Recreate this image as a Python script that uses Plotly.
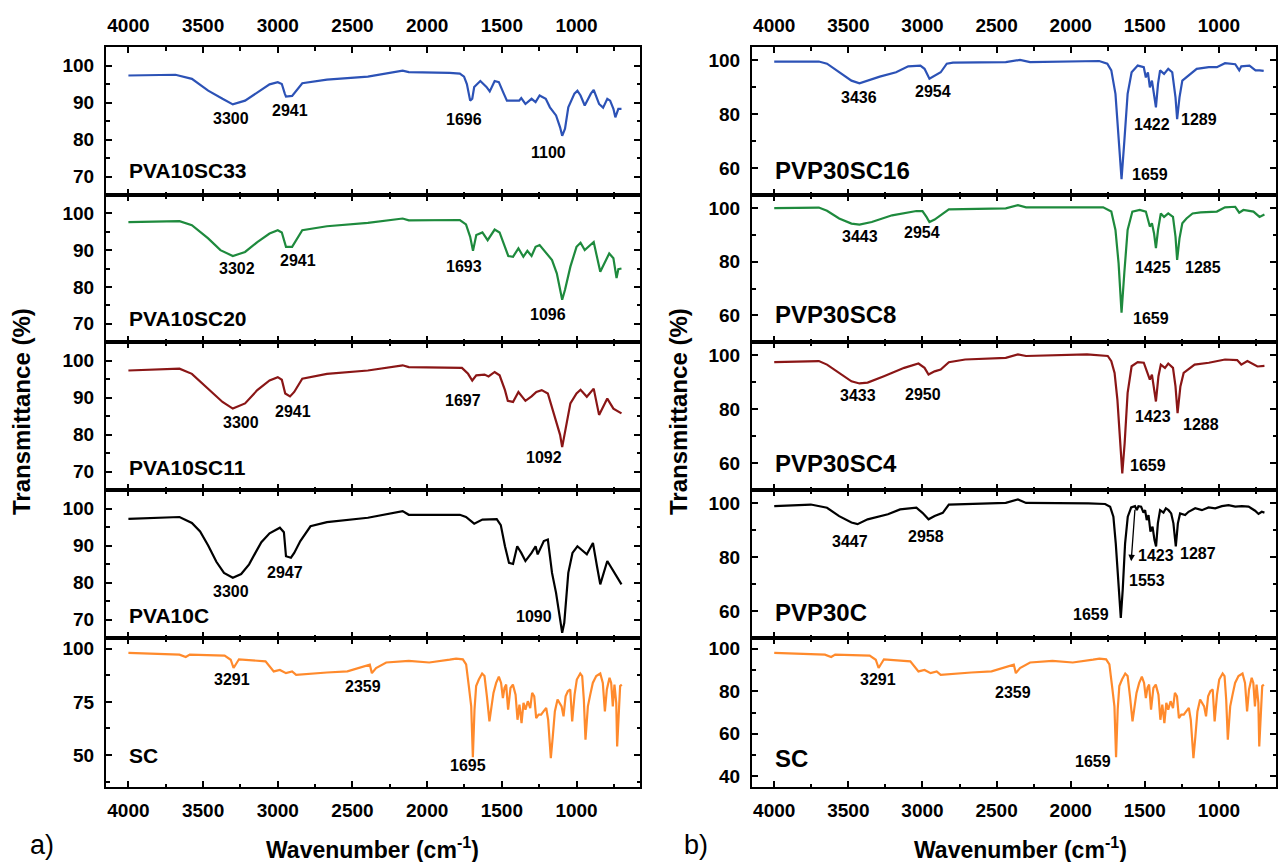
import plotly.graph_objects as go

# ---------------- data (wavenumber cm-1, transmittance %) ----------------
wn_pva10sc33 = [4000, 3685, 3575, 3466, 3370, 3301, 3219, 3137, 3055, 3000, 2973, 2953, 2945, 2904, 2877, 2836,
                2671, 2397, 2164, 2123, 1849, 1781, 1753, 1734, 1712, 1698, 1685, 1644, 1603, 1581, 1548, 1520,
                1487, 1466, 1384, 1370, 1342, 1301, 1274, 1247, 1206, 1178, 1137, 1110, 1096, 1077, 1055, 1014,
                994, 973, 945, 904, 885, 849, 822, 794, 775, 753, 740, 720, 699]
t_pva10sc33 = [97.3, 97.5, 96.4, 93.2, 91.0, 89.5, 90.5, 92.8, 94.9, 95.5, 95.0, 92.4, 91.6, 91.8, 93.2, 95.2,
               96.2, 97.0, 98.6, 98.2, 98.0, 97.8, 97.0, 95.0, 90.5, 91.0, 94.2, 95.8, 94.2, 93.0, 95.8, 95.5,
               92.4, 90.5, 90.5, 91.2, 89.6, 91.0, 90.1, 91.9, 91.0, 88.7, 86.5, 83.3, 81.0, 82.9, 88.7, 92.4,
               93.2, 91.9, 89.2, 92.4, 93.4, 89.6, 88.6, 91.0, 90.5, 88.3, 86.0, 88.3, 88.3]

wn_pva10sc20 = [4000, 3658, 3575, 3466, 3384, 3301, 3219, 3137, 3055, 3000, 2973, 2945, 2904, 2877, 2836, 2671,
                2397, 2164, 2123, 1781, 1740, 1712, 1693, 1671, 1630, 1595, 1548, 1515, 1479, 1457, 1425, 1389,
                1356, 1329, 1301, 1274, 1247, 1206, 1164, 1132, 1110, 1096, 1077, 1041, 1000, 973, 945, 904,
                885, 841, 781, 753, 732, 720, 699]
t_pva10sc20 = [97.6, 97.9, 96.8, 93.2, 90.0, 88.4, 89.5, 92.2, 94.5, 95.4, 94.8, 90.9, 90.9, 92.7, 95.4, 96.5,
               97.4, 98.6, 98.1, 98.2, 97.0, 93.6, 89.8, 94.1, 94.8, 92.7, 95.6, 94.8, 90.5, 88.4, 88.2, 90.5,
               88.2, 89.8, 88.4, 90.9, 91.4, 89.5, 87.3, 83.7, 79.2, 76.5, 79.2, 85.5, 90.9, 92.0, 90.0, 91.7,
               92.2, 84.1, 89.1, 87.8, 82.4, 84.8, 85.0]

wn_pva10sc11 = [4000, 3658, 3575, 3466, 3370, 3301, 3219, 3137, 3055, 3000, 2973, 2950, 2918, 2890, 2836, 2671,
                2397, 2164, 2123, 1767, 1726, 1698, 1671, 1616, 1589, 1548, 1515, 1479, 1460, 1425, 1389, 1342,
                1301, 1269, 1233, 1192, 1159, 1132, 1110, 1096, 1077, 1041, 1000, 973, 931, 885, 849, 794,
                753, 699]
t_pva10sc11 = [97.3, 97.8, 96.4, 92.4, 88.8, 87.0, 88.4, 92.0, 94.6, 95.5, 94.8, 91.1, 90.3, 91.5, 95.1, 96.4,
               97.3, 98.7, 98.2, 98.0, 96.4, 94.6, 96.0, 96.2, 95.7, 96.9, 96.0, 92.0, 89.1, 88.8, 91.5, 89.1,
               90.3, 91.5, 92.0, 91.1, 86.6, 83.5, 79.9, 76.6, 80.8, 88.4, 91.1, 92.1, 90.2, 92.4, 85.3, 89.7,
               87.0, 85.7]

wn_pva10c = [4000, 3658, 3575, 3520, 3466, 3411, 3360, 3301, 3245, 3192, 3150, 3110, 3055, 2986, 2959, 2945,
             2912, 2890, 2849, 2781, 2671, 2397, 2164, 2123, 1781, 1740, 1685, 1630, 1534, 1507, 1479, 1452,
             1425, 1397, 1370, 1342, 1301, 1274, 1260, 1219, 1192, 1164, 1137, 1110, 1096, 1082, 1055, 1027,
             994, 931, 890, 863, 841, 794, 699]
t_pva10c = [97.2, 97.7, 96.1, 93.8, 90.0, 85.6, 82.6, 81.3, 82.3, 84.9, 88.0, 90.9, 93.3, 94.8, 93.6, 87.1,
            86.7, 88.0, 91.2, 95.2, 96.3, 97.5, 99.3, 98.3, 98.3, 97.7, 95.9, 97.0, 97.1, 95.5, 89.8, 85.3,
            85.0, 89.8, 88.0, 85.8, 88.0, 89.8, 87.6, 91.2, 91.6, 82.6, 77.2, 70.0, 66.4, 69.1, 82.6, 88.0,
            89.8, 87.6, 90.7, 84.4, 79.5, 85.8, 79.5]

wn_sc = [4000, 3658, 3616, 3589, 3356, 3315, 3296, 3260, 3082, 3027, 2986, 2945, 2904, 2877, 2671, 2534,
         2384, 2370, 2342, 2274, 2123, 1986, 1849, 1806, 1761, 1739, 1721, 1705, 1694, 1683, 1672, 1654,
         1632, 1616, 1600, 1583, 1569, 1556, 1538, 1520, 1505, 1493, 1482, 1471, 1458, 1442, 1426, 1408,
         1395, 1382, 1368, 1355, 1342, 1326, 1310, 1297, 1283, 1270, 1254, 1237, 1221, 1203, 1190, 1181,
         1172, 1159, 1145, 1127, 1114, 1100, 1087, 1073, 1058, 1042, 1029, 1013, 998, 975, 962, 951,
         940, 924, 908, 891, 868, 841, 824, 810, 797, 779, 768, 757, 746, 734, 728, 717, 708, 697]
t_sc = [98.0, 97.2, 96.1, 97.2, 96.7, 94.8, 90.9, 95.0, 94.0, 89.3, 90.0, 88.5, 89.3, 87.7, 88.8, 89.3,
        92.5, 88.5, 90.9, 93.5, 94.3, 93.5, 94.8, 95.3, 95.0, 92.6, 82.4, 72.9, 49.0, 71.3, 82.4, 85.5,
        88.3, 87.1, 77.6, 65.8, 72.9, 79.2, 83.9, 86.8, 83.9, 76.8, 81.6, 83.1, 71.3, 81.6, 83.1, 78.4,
        66.6, 73.7, 65.0, 74.5, 71.3, 75.3, 72.1, 79.2, 77.6, 67.4, 69.0, 69.0, 70.5, 72.1, 66.6, 57.2,
        48.5, 58.7, 70.5, 76.1, 74.5, 72.9, 68.2, 77.6, 80.0, 80.8, 65.8, 78.4, 85.5, 88.3, 87.1, 76.1,
        57.2, 72.9, 78.4, 83.9, 87.1, 88.3, 83.9, 70.5, 80.8, 86.3, 83.9, 72.9, 83.1, 74.5, 54.0, 72.9,
        82.4, 83.1]

wn_pvp30sc16 = [4000, 3699, 3644, 3562, 3479, 3425, 3370, 3288, 3178, 3096, 3014, 2986, 2953, 2918, 2877, 2836,
                2794, 2438, 2342, 2274, 1808, 1753, 1726, 1698, 1677, 1657, 1638, 1616, 1589, 1548, 1507, 1493,
                1479, 1466, 1452, 1438, 1425, 1411, 1397, 1370, 1342, 1315, 1293, 1282, 1266, 1247, 1219, 1192,
                1150, 1068, 1014, 959, 890, 863, 849, 794, 753, 726, 698]
t_pvp30sc16 = [99.6, 99.6, 98.8, 95.6, 92.5, 91.5, 92.5, 94.0, 95.6, 97.8, 98.1, 96.9, 93.2, 94.4, 95.6, 98.8,
               99.2, 99.4, 100.2, 99.4, 99.8, 98.8, 96.3, 87.6, 72.6, 55.9, 70.1, 87.6, 95.6, 98.1, 97.5, 93.7,
               95.6, 90.0, 92.5, 87.6, 82.6, 91.3, 96.3, 95.0, 96.9, 95.6, 86.3, 78.2, 86.3, 92.5, 93.7, 95.0,
               96.9, 97.5, 97.5, 99.0, 98.6, 96.3, 97.8, 98.1, 96.3, 96.3, 96.1]

wn_pvp30sc8 = [4000, 3699, 3644, 3562, 3479, 3425, 3342, 3205, 3041, 3000, 2973, 2953, 2918, 2863, 2822, 2438,
               2356, 2301, 1781, 1726, 1698, 1677, 1657, 1638, 1616, 1584, 1534, 1493, 1479, 1466, 1452, 1438,
               1425, 1411, 1392, 1370, 1342, 1310, 1293, 1282, 1266, 1247, 1219, 1178, 1123, 1014, 959, 890,
               863, 835, 767, 726, 693]
t_pvp30sc8 = [100.1, 100.3, 99.1, 96.2, 94.3, 93.9, 94.9, 97.4, 99.0, 99.0, 96.8, 94.9, 95.8, 98.1, 99.6, 100.0,
              101.2, 100.4, 100.4, 98.8, 91.9, 79.5, 61.0, 76.1, 91.9, 98.8, 99.4, 98.8, 95.7, 93.2, 94.4, 90.7,
              85.1, 91.9, 98.1, 96.8, 98.1, 96.8, 89.4, 80.7, 88.8, 94.4, 96.2, 98.1, 98.5, 98.8, 100.4, 100.6,
              98.4, 99.4, 98.8, 96.8, 97.7]

wn_pvp30sc4 = [4000, 3699, 3644, 3562, 3479, 3425, 3370, 3260, 3123, 3027, 2986, 2959, 2918, 2877, 2822, 2712,
               2438, 2356, 2301, 1890, 1750, 1726, 1704, 1685, 1666, 1652, 1636, 1616, 1589, 1548, 1507, 1485,
               1466, 1452, 1438, 1425, 1408, 1392, 1364, 1342, 1310, 1293, 1279, 1260, 1238, 1206, 1164, 1068,
               959, 877, 849, 808, 740, 693]
t_pvp30sc4 = [97.5, 97.9, 96.6, 93.5, 90.4, 89.6, 89.9, 92.3, 95.4, 97.0, 95.4, 92.9, 94.1, 94.8, 97.5, 98.5,
              99.1, 100.4, 99.8, 100.4, 99.8, 97.9, 93.5, 83.6, 67.4, 56.2, 67.4, 86.1, 96.0, 97.5, 97.3, 93.5,
              91.0, 92.9, 87.3, 82.9, 92.3, 96.6, 95.4, 97.0, 95.4, 88.5, 78.6, 88.5, 93.5, 94.8, 96.6, 97.3,
              98.5, 98.3, 96.6, 97.9, 95.9, 96.1]

wn_pvp30c = [4000, 3753, 3644, 3562, 3479, 3438, 3370, 3288, 3233, 3151, 3041, 3000, 2959, 2918, 2863, 2822,
             2438, 2356, 2301, 1880, 1768, 1734, 1712, 1696, 1678, 1662, 1649, 1633, 1615, 1592, 1566, 1554,
             1543, 1525, 1509, 1498, 1487, 1475, 1462, 1448, 1435, 1424, 1412, 1397, 1374, 1358, 1340, 1322,
             1307, 1291, 1277, 1262, 1228, 1205, 1160, 1115, 1070, 1025, 980, 935, 890, 845, 800, 756,
             733, 711, 693]
t_pvp30c = [99.0, 99.6, 98.4, 95.3, 92.9, 92.3, 94.1, 95.3, 96.0, 97.8, 98.4, 96.5, 94.1, 95.3, 96.5, 99.6,
            100.2, 101.5, 100.2, 100.0, 99.8, 98.8, 95.1, 85.2, 68.0, 57.5, 68.0, 85.2, 95.1, 98.5, 99.0, 97.5,
            99.0, 98.8, 96.6, 97.5, 93.8, 95.7, 89.5, 91.4, 86.5, 84.0, 92.6, 97.5, 96.6, 98.2, 97.5, 96.3,
            92.6, 84.0, 92.6, 96.3, 95.7, 96.9, 98.2, 97.5, 98.5, 98.2, 99.0, 99.4, 98.8, 99.0, 98.8, 97.3,
            96.1, 96.9, 96.6]

# panel names and tick labels
names_left = ["PVA10SC33", "PVA10SC20", "PVA10SC11", "PVA10C", "SC"]
names_right = ["PVP30SC16", "PVP30SC8", "PVP30SC4", "PVP30C", "SC"]
x_tick_vals = [4000, 3500, 3000, 2500, 2000, 1500, 1000]

# ---------------- figure ----------------
W, H = 1278, 862
FONT = "Liberation Sans, Arial, sans-serif"
col_dom = {0: (106 / W, 640 / W), 1: (752 / W, 1276 / W)}
col_xrange = {0: [4150, 575], 1: [4150, 615]}
rows_px = [(47, 195), (195, 342), (342, 490), (490, 638), (638, 787)]

blue, green, red, black, orange = "#2c52b6", "#1e8a3d", "#8a1616", "#000000", "#ff8a2c"

panels = [
    # col, row, x, y, color, yrange, yticks, minor dtick
    (0, 0, wn_pva10sc33, t_pva10sc33, blue, [65, 105], [70, 80, 90, 100], 5),
    (0, 1, wn_pva10sc20, t_pva10sc20, green, [65, 105], [70, 80, 90, 100], 5),
    (0, 2, wn_pva10sc11, t_pva10sc11, red, [65, 105], [70, 80, 90, 100], 5),
    (0, 3, wn_pva10c, t_pva10c, black, [65, 105], [70, 80, 90, 100], 5),
    (0, 4, wn_sc, t_sc, orange, [35, 105], [50, 75, 100], 12.5),
    (1, 0, wn_pvp30sc16, t_pvp30sc16, blue, [50, 105], [60, 80, 100], 10),
    (1, 1, wn_pvp30sc8, t_pvp30sc8, green, [50, 105], [60, 80, 100], 10),
    (1, 2, wn_pvp30sc4, t_pvp30sc4, red, [50, 105], [60, 80, 100], 10),
    (1, 3, wn_pvp30c, t_pvp30c, black, [50, 105], [60, 80, 100], 10),
    (1, 4, wn_sc, t_sc, orange, [35, 105], [40, 60, 80, 100], 10),
]

# peak labels: panel index -> list of (text, x, y, xanchor)
peak_labels = {
    0: [("3300", 3310, 85.6, "center"), ("2941", 2918, 87.8, "center"), ("1696", 1753, 85.4, "center"),
        ("1100", 1186, 76.4, "center")],
    1: [("3302", 3274, 85.1, "center"), ("2941", 2863, 87.1, "center"), ("1693", 1753, 85.5, "center"),
        ("1096", 1192, 72.4, "center")],
    2: [("3300", 3247, 83.2, "center"), ("2941", 2896, 86.1, "center"), ("1697", 1759, 89.1, "center"),
        ("1092", 1219, 73.9, "center")],
    3: [("3300", 3310, 77.7, "center"), ("2947", 2953, 82.6, "center"), ("1090", 1287, 70.7, "center")],
    4: [("3291", 3307, 85.4, "center"), ("2359", 2430, 82.2, "center"), ("1695", 1726, 45.3, "center")],
    5: [("3436", 3425, 86.3, "center"), ("2954", 2926, 88.6, "center"), ("1422", 1452, 76.1, "center"),
        ("1289", 1137, 78.0, "center"), ("1659", 1465, 57.5, "center")],
    6: [("3443", 3419, 89.4, "center"), ("2954", 3000, 90.9, "center"), ("1425", 1446, 78.0, "center"),
        ("1285", 1110, 78.0, "center"), ("1659", 1457, 58.8, "center")],
    7: [("3433", 3433, 85.1, "center"), ("2950", 2994, 85.4, "center"), ("1423", 1446, 77.4, "center"),
        ("1288", 1123, 74.5, "center"), ("1659", 1479, 59.0, "center")],
    8: [("3447", 3488, 86.0, "center"), ("2958", 2973, 87.9, "center"), ("1423", 1426, 80.7, "center"),
        ("1287", 1138, 81.3, "center"), ("1553", 1487, 71.4, "center"), ("1659", 1730, 58.8, "right")],
    9: [("3291", 3301, 85.6, "center"), ("2359", 2389, 79.4, "center"), ("1659", 1715, 47.1, "right")],
}
name_y = [71.6, 71.5, 71.0, 71.1, 50.0, 59.0, 60.4, 59.7, 59.3, 48.4]

fig = go.Figure()
annotations = []
layout = {}
for i, (c, r, xs, ys, color, yr, yt, ymin) in enumerate(panels):
    k = i + 1
    xa, ya = f"x{k}", f"y{k}"
    fig.add_trace(go.Scatter(x=xs, y=ys, mode="lines", line=dict(color=color, width=2.2),
                             xaxis=xa, yaxis=ya, showlegend=False, hoverinfo="skip"))
    top_px, bot_px = rows_px[r]
    ydom = (1 - bot_px / H, 1 - top_px / H)
    show_x = r in (0, 4)
    layout[f"xaxis{k}"] = dict(
        domain=col_dom[c], range=col_xrange[c], anchor=ya,
        showline=True, linecolor="black", linewidth=2, mirror="allticks",
        ticks="inside", ticklen=6, tickwidth=2, tickcolor="black",
        tickvals=x_tick_vals, minor=dict(dtick=250, tick0=0, ticks="inside", ticklen=3.5, tickwidth=1.5,
                                         tickcolor="black"),
        showgrid=False, zeroline=False, showticklabels=show_x,
        side="top" if r == 0 else "bottom", ticklabelstandoff=5,
        tickfont=dict(family=FONT, size=19, color="black", weight="bold"),
    )
    layout[f"yaxis{k}"] = dict(
        domain=ydom, range=yr, anchor=xa,
        showline=True, linecolor="black", linewidth=2, mirror="allticks",
        ticks="inside", ticklen=6, tickwidth=2, tickcolor="black",
        tickvals=yt, minor=dict(dtick=ymin, tick0=0, ticks="inside", ticklen=3.5, tickwidth=1.5,
                                tickcolor="black"),
        showgrid=False, zeroline=False, ticklabelstandoff=6,
        tickfont=dict(family=FONT, size=19, color="black", weight="bold"),
    )
    nm = (names_left if c == 0 else names_right)[r]
    annotations.append(dict(text=nm, x=4010, y=name_y[i], xref=xa, yref=ya, xanchor="left", yanchor="middle",
                            showarrow=False,
                            font=dict(family=FONT, size=21 if c == 0 else 24, color="black", weight="bold")))
    for (txt, lx, ly, anc) in peak_labels[i]:
        annotations.append(dict(text=txt, x=lx, y=ly, xref=xa, yref=ya, xanchor=anc, yanchor="middle",
                                showarrow=False, font=dict(family=FONT, size=16, color="black", weight="bold")))

# arrow for the 1553 band in PVP30C
annotations.append(dict(text="", x=1592, y=78.5, ax=1566, ay=98.2, xref="x9", yref="y9", axref="x9", ayref="y9",
                        showarrow=True, arrowhead=2, arrowsize=1, arrowwidth=1.3, arrowcolor="black"))

# axis titles and panel letters
for cx, letter, lx in [(372 / W, "a)", 42 / W), (1020 / W, "b)", 696 / W)]:
    annotations.append(dict(text="Wavenumber (cm<sup>-1</sup>)", x=cx, y=1 - 848 / H, xref="paper", yref="paper",
                            xanchor="center", yanchor="middle", showarrow=False,
                            font=dict(family=FONT, size=23, color="black", weight="bold")))
    annotations.append(dict(text=letter, x=lx, y=1 - 845 / H, xref="paper", yref="paper",
                            xanchor="center", yanchor="middle", showarrow=False,
                            font=dict(family=FONT, size=27, color="black")))
for tx in (21 / W, 678 / W):
    annotations.append(dict(text="Transmittance (%)", x=tx, y=1 - 412 / H, xref="paper", yref="paper",
                            xanchor="center", yanchor="middle", textangle=-90, showarrow=False,
                            font=dict(family=FONT, size=24, color="black", weight="bold")))

fig.update_layout(width=W, height=H, margin=dict(l=0, r=0, t=0, b=0), paper_bgcolor="white",
                  plot_bgcolor="white", annotations=annotations, **layout)
fig.write_html("out.html")
